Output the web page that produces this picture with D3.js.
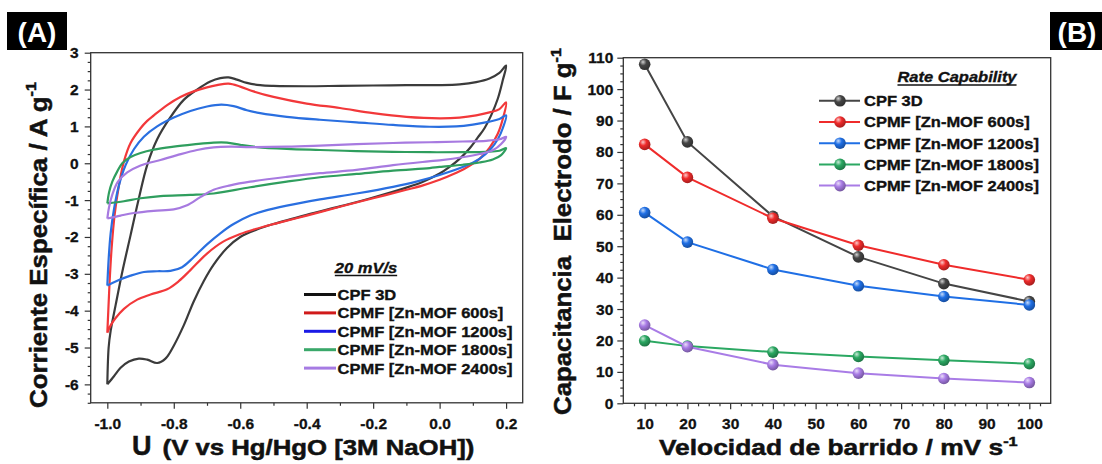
<!DOCTYPE html>
<html><head><meta charset="utf-8">
<script src="https://cdn.jsdelivr.net/npm/d3@7"></script>
<style>
html,body{margin:0;padding:0;background:#fff;}
svg{display:block;font-family:"Liberation Sans",Arial,sans-serif;}
text{white-space:pre;}
</style></head><body>
<svg id="chart" width="1102" height="464"></svg>
<script>
// ---------------- DATA ----------------
const seriesNames = ["CPF 3D", "CPMF [Zn-MOF 600s]", "CPMF [Zn-MOF 1200s]", "CPMF [Zn-MOF 1800s]", "CPMF [Zn-MOF 2400s]"];

// Panel A: cyclic voltammograms at 20 mV/s, [potential V, current A/g] (anodic then cathodic branch)
const cvCPF3D = [[-1.0,-6.0],[-0.996,-5.0],[-0.99,-4.55],[-0.975,-3.85],[-0.955,-2.95],[-0.93,-1.95],[-0.905,-0.95],[-0.88,-0.05],[-0.85,0.65],[-0.81,1.25],[-0.77,1.72],[-0.73,2.0],[-0.69,2.22],[-0.66,2.31],[-0.635,2.33],[-0.61,2.27],[-0.58,2.18],[-0.54,2.12],[-0.5,2.1],[-0.4,2.09],[-0.3,2.1],[-0.2,2.11],[-0.1,2.12],[0.0,2.12],[0.06,2.14],[0.11,2.2],[0.15,2.3],[0.18,2.45],[0.2,2.65],
  [0.19,2.25],[0.175,1.75],[0.155,1.3],[0.135,0.95],[0.115,0.7],[0.09,0.4],[0.06,0.12],[0.03,-0.1],[0.0,-0.28],[-0.05,-0.5],[-0.1,-0.66],[-0.2,-0.93],[-0.3,-1.17],[-0.4,-1.4],[-0.5,-1.65],[-0.55,-1.8],[-0.6,-2.0],[-0.64,-2.3],[-0.68,-2.75],[-0.71,-3.2],[-0.74,-3.75],[-0.77,-4.4],[-0.8,-4.95],[-0.825,-5.3],[-0.85,-5.42],[-0.88,-5.33],[-0.905,-5.3],[-0.935,-5.38],[-0.96,-5.55],[-0.98,-5.78],[-1.0,-6.0]];
const cv600s = [[-1.0,-4.6],[-0.997,-4.0],[-0.993,-3.2],[-0.987,-2.3],[-0.978,-1.4],[-0.965,-0.6],[-0.95,0.05],[-0.93,0.55],[-0.9,0.95],[-0.88,1.15],[-0.86,1.3],[-0.82,1.58],[-0.78,1.8],[-0.74,1.95],[-0.7,2.06],[-0.67,2.12],[-0.635,2.16],[-0.6,2.08],[-0.56,1.95],[-0.5,1.8],[-0.4,1.62],[-0.3,1.5],[-0.2,1.36],[-0.1,1.26],[0.0,1.22],[0.06,1.24],[0.11,1.3],[0.15,1.38],[0.18,1.47],[0.2,1.65],
  [0.19,1.2],[0.175,0.8],[0.15,0.42],[0.12,0.12],[0.08,-0.12],[0.04,-0.3],[0.0,-0.45],[-0.05,-0.6],[-0.1,-0.72],[-0.2,-0.95],[-0.3,-1.18],[-0.4,-1.42],[-0.5,-1.65],[-0.56,-1.8],[-0.6,-1.92],[-0.65,-2.12],[-0.7,-2.45],[-0.75,-2.9],[-0.785,-3.2],[-0.82,-3.42],[-0.87,-3.56],[-0.91,-3.7],[-0.95,-3.95],[-0.975,-4.2],[-0.99,-4.4],[-1.0,-4.6]];
const cv1200s = [[-1.0,-3.32],[-0.996,-2.6],[-0.99,-1.9],[-0.98,-1.25],[-0.965,-0.6],[-0.945,-0.05],[-0.92,0.38],[-0.89,0.72],[-0.85,1.0],[-0.8,1.24],[-0.75,1.42],[-0.7,1.54],[-0.657,1.59],[-0.62,1.55],[-0.58,1.44],[-0.54,1.36],[-0.46,1.26],[-0.36,1.18],[-0.25,1.11],[-0.14,1.04],[-0.03,0.99],[0.05,1.0],[0.1,1.05],[0.15,1.13],[0.18,1.2],[0.2,1.3],
  [0.19,0.95],[0.175,0.65],[0.155,0.4],[0.12,0.12],[0.073,-0.09],[0.0,-0.32],[-0.07,-0.5],[-0.14,-0.64],[-0.25,-0.82],[-0.36,-0.98],[-0.46,-1.15],[-0.53,-1.3],[-0.57,-1.42],[-0.62,-1.65],[-0.66,-1.9],[-0.7,-2.2],[-0.74,-2.55],[-0.775,-2.82],[-0.81,-2.92],[-0.85,-2.93],[-0.89,-2.95],[-0.93,-3.05],[-0.965,-3.17],[-1.0,-3.32]];
const cv1800s = [[-1.0,-1.09],[-0.995,-0.8],[-0.985,-0.5],[-0.97,-0.22],[-0.955,0.0],[-0.93,0.17],[-0.9,0.28],[-0.86,0.37],[-0.8,0.45],[-0.74,0.51],[-0.68,0.56],[-0.64,0.56],[-0.6,0.5],[-0.55,0.44],[-0.46,0.39],[-0.36,0.36],[-0.25,0.33],[-0.14,0.31],[-0.03,0.3],[0.07,0.3],[0.14,0.31],[0.18,0.34],[0.2,0.41],
  [0.185,0.22],[0.16,0.1],[0.12,0.02],[0.07,-0.04],[0.0,-0.1],[-0.03,-0.13],[-0.14,-0.2],[-0.25,-0.29],[-0.36,-0.38],[-0.46,-0.5],[-0.57,-0.65],[-0.68,-0.82],[-0.75,-0.86],[-0.84,-0.89],[-0.9,-0.95],[-0.95,-1.03],[-1.0,-1.09]];
const cv2400s = [[-1.0,-1.5],[-0.995,-1.2],[-0.985,-0.85],[-0.968,-0.5],[-0.94,-0.25],[-0.9,-0.06],[-0.84,0.09],[-0.79,0.22],[-0.73,0.36],[-0.68,0.43],[-0.63,0.45],[-0.57,0.44],[-0.46,0.45],[-0.36,0.48],[-0.25,0.52],[-0.14,0.55],[-0.03,0.57],[0.07,0.59],[0.14,0.61],[0.18,0.65],[0.2,0.72],
  [0.185,0.52],[0.16,0.35],[0.12,0.25],[0.073,0.17],[0.0,0.08],[-0.034,0.05],[-0.14,-0.05],[-0.25,-0.18],[-0.36,-0.27],[-0.46,-0.37],[-0.57,-0.5],[-0.63,-0.6],[-0.68,-0.72],[-0.72,-0.92],[-0.76,-1.14],[-0.8,-1.25],[-0.86,-1.29],[-0.92,-1.35],[-0.96,-1.42],[-1.0,-1.5]];

const cvTicksX = [-1.0,-0.8,-0.6,-0.4,-0.2,0.0,0.2];
const cvTicksY = [3,2,1,0,-1,-2,-3,-4,-5,-6];

// Panel B: rate capability
const scanRates = [10,20,40,60,80,100];
const capCPF3D = [107.9,83.2,59.5,46.6,38.1,32.4];
const cap600s  = [82.4,71.9,58.9,50.3,44.1,39.3];
const cap1200s = [60.7,51.3,42.6,37.4,34.0,31.3];
const cap1800s = [19.9,18.2,16.3,14.9,13.7,12.6];
const cap2400s = [24.9,18.0,12.3,9.6,7.9,6.6];
const rateTicksX = [10,20,30,40,50,60,70,80,90,100];
const rateTicksY = [0,10,20,30,40,50,60,70,80,90,100,110];

// ---------------- STYLE ----------------
const cvColors = ["#3b3b3b","#f2383a","#2a6fe0","#2f9e5e","#a77ae0"];
const cvLegendColors = ["#111111","#d01a1a","#1a1ae6","#3aa86a","#a67be3"];
const rateColors = ["#454545","#ef2b2b","#1f6fe5","#2ba862","#a97ce6"];
const FONT = '"Liberation Sans", Arial, sans-serif';
const STRETCH = 1.1;
const INK = "#111";

const svg = d3.select("#chart");
const defs = svg.append("defs");

function heavy(sel, w) {
  return sel.attr("stroke",INK).attr("stroke-width",w||0.35).attr("paint-order","stroke");
}

// ---------------- PANEL A ----------------
const xA = d3.scaleLinear().domain([-1.05,0.25]).range([90.7,522.7]);
const yA = d3.scaleLinear().domain([-6.5,3]).range([402.8,52.7]);

function drawFrame(x, y) {
  const [x0,x1] = x.range(), [y0,y1] = y.range();
  svg.append("rect").attr("x",x0).attr("y",y1).attr("width",x1-x0).attr("height",y0-y1)
    .attr("fill","none").attr("stroke","#333").attr("stroke-width",1.3);
}
function fmtA(d){ return (Math.abs(d)<1e-9?0:d).toFixed(1); }

function axes(x, y, xt, yt, xminor, yminor, xfmt, yfmt, ypad) {
  const [x0] = x.range(), [y0] = y.range();
  const gx = svg.append("g").attr("transform",`translate(0,${y0})`)
    .call(d3.axisBottom(x).tickValues(xt).tickSize(6).tickPadding(9).tickFormat(xfmt));
  const gxm = svg.append("g").attr("transform",`translate(0,${y0})`)
    .call(d3.axisBottom(x).tickValues(xminor).tickSize(3).tickFormat(""));
  const gy = svg.append("g").attr("transform",`translate(${x0},0)`)
    .call(d3.axisLeft(y).tickValues(yt).tickSize(6).tickPadding(ypad).tickFormat(yfmt));
  const gym = svg.append("g").attr("transform",`translate(${x0},0)`)
    .call(d3.axisLeft(y).tickValues(yminor).tickSize(3).tickFormat(""));
  [gx,gxm,gy,gym].forEach(g=>{
    g.select(".domain").remove();
    g.selectAll("line").attr("stroke","#333").attr("stroke-width",1.2);
    heavy(g.selectAll("text").attr("font-family",FONT).attr("font-size",15.5).attr("font-weight","bold").attr("fill",INK), 0.3);
  });
}

const xMinorA = d3.range(-1.0,0.25,0.1).map(v=>+v.toFixed(2)).filter(v=>!cvTicksX.some(t=>Math.abs(t-v)<1e-6));
const yMinorA = d3.range(-6.5,3.01,0.25).map(v=>+v.toFixed(2)).filter(v=>!cvTicksY.includes(v));
axes(xA,yA,cvTicksX,cvTicksY,xMinorA,yMinorA,fmtA,d=>String(d),6);

const lineA = d3.line().x(d=>xA(d[0])).y(d=>yA(d[1])).curve(d3.curveCatmullRom.alpha(0.5));
[cvCPF3D,cv600s,cv1200s,cv1800s,cv2400s].forEach((s,i)=>{
  svg.append("path").attr("d",lineA(s)).attr("fill","none")
    .attr("stroke",cvColors[i]).attr("stroke-width",2.2).attr("stroke-linejoin","round");
});
drawFrame(xA,yA);

// ---------------- PANEL B ----------------
const xB = d3.scaleLinear().domain([5,105]).range([623.3,1050.7]);
const yB = d3.scaleLinear().domain([0,110]).range([403.3,57.7]);
const xMinorB = d3.range(7.5,105,2.5).filter(v=>!rateTicksX.includes(v));
const yMinorB = d3.range(2.5,110,2.5).filter(v=>!rateTicksY.includes(v));
axes(xB,yB,rateTicksX,rateTicksY,xMinorB,yMinorB,d=>String(d),d=>String(d),4);

// sphere gradients
rateColors.forEach((c,i)=>{
  const g = defs.append("radialGradient").attr("id","sph"+i)
    .attr("cx","0.38").attr("cy","0.35").attr("r","0.65").attr("fx","0.35").attr("fy","0.3");
  g.append("stop").attr("offset","0%").attr("stop-color",d3.interpolateRgb(c,"#ffffff")(0.75));
  g.append("stop").attr("offset","45%").attr("stop-color",c);
  g.append("stop").attr("offset","100%").attr("stop-color",d3.interpolateRgb(c,"#000000")(0.3));
});

const lineB = d3.line().x(d=>xB(d[0])).y(d=>yB(d[1]));
[capCPF3D,cap600s,cap1200s,cap1800s,cap2400s].forEach((vals,i)=>{
  const pts = scanRates.map((r,j)=>[r,vals[j]]);
  svg.append("path").attr("d",lineB(pts)).attr("fill","none")
    .attr("stroke",rateColors[i]).attr("stroke-width",2);
  svg.append("g").selectAll("circle").data(pts).join("circle")
    .attr("cx",d=>xB(d[0])).attr("cy",d=>yB(d[1])).attr("r",5.8)
    .attr("fill",`url(#sph${i})`);
});
drawFrame(xB,yB);

// ---------------- TEXT HELPERS ----------------
function stretchedText(parent, x, y, size, opts={}) {
  const g = parent.append("g").attr("transform",`translate(${x},${y}) scale(${opts.sx||STRETCH},1)`);
  const t = g.append("text").attr("font-family",FONT).attr("font-size",size)
    .attr("font-weight","bold").attr("fill",INK)
    .attr("text-anchor",opts.anchor||"start");
  heavy(t, 0.35);
  if (opts.italic) t.attr("font-style","italic");
  return {g,t};
}

// Legend A
{
  const rows = [294.5,312.9,331.3,349.7,368.1];
  const cx = 366;
  const title = stretchedText(svg, cx, 272.5, 15, {anchor:"middle", italic:true});
  title.t.text("20 mV/s");
  const w = title.t.node().getComputedTextLength()*STRETCH;
  svg.append("line").attr("x1",cx-w/2).attr("x2",cx+w/2).attr("y1",275.5).attr("y2",275.5)
    .attr("stroke",INK).attr("stroke-width",1.3);
  seriesNames.forEach((n,i)=>{
    svg.append("line").attr("x1",304).attr("x2",336).attr("y1",rows[i]).attr("y2",rows[i])
      .attr("stroke",cvLegendColors[i]).attr("stroke-width",3);
    stretchedText(svg, 337.6, rows[i]+5.4, 15).t.text(n);
  });
}
// Legend B
{
  const rows = [100.8,122,143.2,164.4,185.6];
  const title = stretchedText(svg, 957, 82, 15, {anchor:"middle", italic:true});
  title.t.text("Rate Capability");
  const w = title.t.node().getComputedTextLength()*STRETCH;
  svg.append("line").attr("x1",957-w/2).attr("x2",957+w/2).attr("y1",85).attr("y2",85)
    .attr("stroke",INK).attr("stroke-width",1.3);
  seriesNames.forEach((n,i)=>{
    svg.append("line").attr("x1",819).attr("x2",860).attr("y1",rows[i]).attr("y2",rows[i])
      .attr("stroke",rateColors[i]).attr("stroke-width",2);
    svg.append("circle").attr("cx",840).attr("cy",rows[i]).attr("r",5.8).attr("fill",`url(#sph${i})`);
    stretchedText(svg, 864, rows[i]+5.4, 15).t.text(n);
  });
}

// Axis titles
function titleWithSup(parent, x, y, size, main, sup, target, rotate) {
  const g = parent.append("g");
  const t = g.append("text").attr("font-family",FONT).attr("font-size",size)
    .attr("font-weight","bold").attr("fill",INK).attr("xml:space","preserve");
  heavy(t, 0.5);
  t.append("tspan").text(main);
  if (sup) t.append("tspan").attr("font-size",size*0.62).attr("dy",-size*0.42).text(sup);
  const len = t.node().getComputedTextLength();
  const sx = target/len;
  g.attr("transform",`translate(${x},${y})${rotate?` rotate(${rotate})`:""} scale(${sx},1) translate(${-len/2},0)`);
  return t;
}
titleWithSup(svg, 46.5, 245, 24, "Corriente Específica / A g", "-1", 326, -90);
titleWithSup(svg, 571, 231.5, 24, "Capacitancia  Electrodo / F g", "-1", 367, -90);
titleWithSup(svg, 838.5, 455, 22, "Velocidad de barrido / mV s", "-1", 359, 0);
// left x title with large U
{
  heavy(svg.append("text").attr("x",132).attr("y",455).attr("font-family",FONT)
    .attr("font-size",27).attr("font-weight","bold").attr("fill",INK).text("U"), 0.5);
  const g = svg.append("g");
  const t = g.append("text").attr("font-family",FONT).attr("font-size",22)
    .attr("font-weight","bold").attr("fill",INK).text("(V vs Hg/HgO [3M NaOH])");
  heavy(t, 0.5);
  const len = t.node().getComputedTextLength();
  g.attr("transform",`translate(162.6,455) scale(${312/len},1)`);
}

// Panel labels
[["(A)",7,12,60],["(B)",1050,12,52]].forEach(([s,x,y,w])=>{
  svg.append("rect").attr("x",x).attr("y",y).attr("width",w).attr("height",38).attr("fill","#000");
  svg.append("text").attr("x",x+w/2+(s==="(B)"?1:0)).attr("y",y+29.5).attr("text-anchor","middle")
    .attr("font-family",FONT).attr("font-size",28).attr("font-weight","bold").attr("fill","#fff").text(s);
});
</script>
</body></html>
